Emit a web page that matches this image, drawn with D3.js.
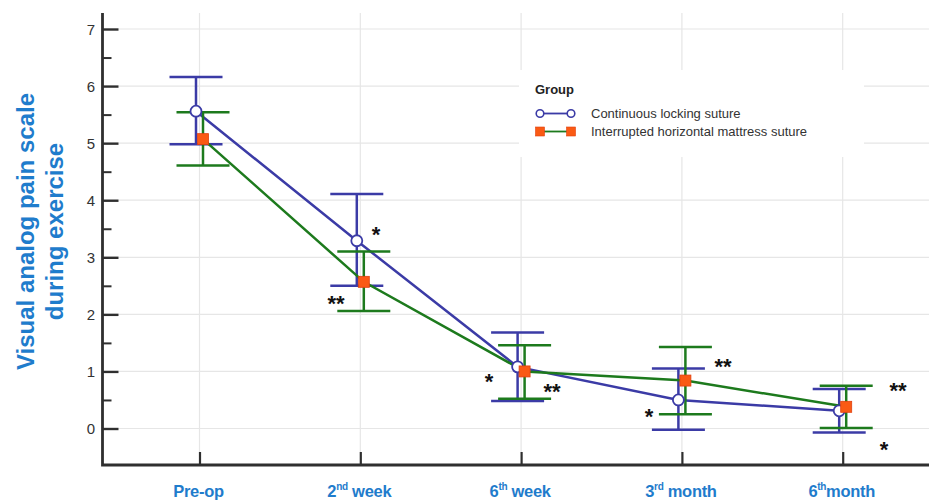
<!DOCTYPE html>
<html>
<head>
<meta charset="utf-8">
<script src="https://cdn.jsdelivr.net/npm/d3@7"></script>
<style>
  html, body { margin: 0; padding: 0; background: #fff; }
  svg { display: block; font-family: "Liberation Sans", Arial, sans-serif; }
</style>
</head>
<body>
<svg id="chart" width="929" height="501"></svg>
<script>
// Time points (main label + superscript + rest)
const timeMain = ["Pre-op", "2", "6", "3", "6"];
const timeSup  = ["", "nd", "th", "rd", "th"];
const timeRest = ["", " week", " week", " month", "month"];

// Continuous locking suture: mean and error bar limits
const contMean  = [5.56, 3.29, 1.08, 0.50, 0.31];
const contUpper = [6.16, 4.11, 1.68, 1.05, 0.69];
const contLower = [4.98, 2.50, 0.48, -0.02, -0.07];

// Interrupted horizontal mattress suture: mean and error bar limits
const intMean  = [5.07, 2.57, 1.00, 0.84, 0.38];
const intUpper = [5.54, 3.10, 1.46, 1.43, 0.75];
const intLower = [4.61, 2.06, 0.52, 0.25, 0.01];

// Significance marks: position in (time index, VAS) units
const sigText = ["*", "**", "*", "**", "**", "*", "**", "*"];
const sigX    = [1.098, 0.849, 1.800, 2.192, 3.256, 2.795, 4.344, 4.257];
const sigY    = [3.48, 2.27, 0.90, 0.73, 1.17, 0.29, 0.74, -0.29];

const yTicks = [0, 1, 2, 3, 4, 5, 6, 7];
const yMinor = [0.5, 1.5, 2.5, 3.5, 4.5, 5.5, 6.5];

const seriesNames = ["Continuous locking suture", "Interrupted horizontal mattress suture"];
const yTitle = ["Visual analog pain scale", "during exercise"];

const BLUE = "#3b3ba6", GREEN = "#1d7a1d", ORANGE = "#fa5a14";
const AXIS = "#2f2f2f", GRID = "#e6e6e6", TITLE = "#1f7ccc";

const svg = d3.select("#chart");
const x = d3.scaleLinear().domain([0, 4]).range([199.5, 842.7]);
const y = d3.scaleLinear().domain([0, 7]).range([428.5, 29]);
const axisLeftX = 102.5, axisBottomY = 465, plotTop = 13;

// gridlines
const grid = svg.append("g");
grid.selectAll("line.h").data(yTicks).join("line")
  .attr("x1", axisLeftX + 16).attr("x2", 929)
  .attr("y1", d => y(d)).attr("y2", d => y(d))
  .attr("stroke", GRID).attr("stroke-width", 1.2);
grid.selectAll("line.v").data(d3.range(timeMain.length)).join("line")
  .attr("x1", d => x(d)).attr("x2", d => x(d))
  .attr("y1", plotTop).attr("y2", axisBottomY - 13)
  .attr("stroke", GRID).attr("stroke-width", 1.2);

// legend background interrupts the grid
svg.append("rect").attr("x", 519).attr("y", 70).attr("width", 345).attr("height", 87).attr("fill", "#fff");

// y axis
const yAxis = d3.axisRight(y).tickValues(yTicks).tickSize(16).tickFormat("");
const gy = svg.append("g").attr("transform", `translate(${axisLeftX},0)`).call(yAxis);
gy.select(".domain").remove();
gy.selectAll(".tick line").attr("stroke", AXIS).attr("stroke-width", 2.4);
const yMinorAxis = d3.axisRight(y).tickValues(yMinor).tickSize(9).tickFormat("");
const gym = svg.append("g").attr("transform", `translate(${axisLeftX},0)`).call(yMinorAxis);
gym.select(".domain").remove();
gym.selectAll(".tick line").attr("stroke", AXIS).attr("stroke-width", 2);

svg.append("g").selectAll("text").data(yTicks).join("text")
  .attr("x", 95).attr("y", d => y(d) + 5.5)
  .attr("text-anchor", "end").attr("font-size", 15).attr("fill", "#333")
  .text(d => d);

// x axis
const xAxis = d3.axisTop(x).tickValues(d3.range(timeMain.length)).tickSize(13).tickFormat("");
const gx = svg.append("g").attr("transform", `translate(0,${axisBottomY})`).call(xAxis);
gx.select(".domain").remove();
gx.selectAll(".tick line").attr("stroke", AXIS).attr("stroke-width", 2.2);

svg.append("path")
  .attr("d", `M${axisLeftX},${plotTop} V${axisBottomY} H929`)
  .attr("fill", "none").attr("stroke", AXIS).attr("stroke-width", 2.8);

// x labels with superscripts
const xl = svg.append("g").selectAll("text").data(d3.range(timeMain.length)).join("text")
  .attr("x", d => x(d) - 1).attr("y", 497)
  .attr("text-anchor", "middle").attr("font-size", 16.5).attr("font-weight", "bold")
  .attr("letter-spacing", -0.3).attr("fill", TITLE);
xl.append("tspan").text(d => timeMain[d]);
xl.append("tspan").attr("font-size", 10).attr("dy", -7).text(d => timeSup[d]);
xl.append("tspan").attr("dy", 7).text(d => timeRest[d]);

// y title, two rotated lines
const titleBase = [34, 63];
svg.append("g").selectAll("text").data(yTitle).join("text")
  .attr("transform", (d, i) => `translate(${titleBase[i]},231.5) rotate(-90)`)
  .attr("text-anchor", "middle").attr("font-size", 24).attr("font-weight", "bold")
  .attr("fill", TITLE)
  .text(d => d);

// series
const series = [
  { mean: contMean, up: contUpper, lo: contLower, color: BLUE, dx: -3.5 },
  { mean: intMean, up: intUpper, lo: intLower, color: GREEN, dx: 3.5 }
];
const capHalf = 26.5;
series.forEach(s => {
  const g = svg.append("g");
  const idx = d3.range(s.mean.length);
  g.selectAll("line.v").data(idx).join("line")
    .attr("x1", i => x(i) + s.dx).attr("x2", i => x(i) + s.dx)
    .attr("y1", i => y(s.up[i])).attr("y2", i => y(s.lo[i]))
    .attr("stroke", s.color).attr("stroke-width", 2.5);
  ["up", "lo"].forEach(k => {
    g.selectAll("line." + k).data(idx).join("line")
      .attr("x1", i => x(i) + s.dx - capHalf).attr("x2", i => x(i) + s.dx + capHalf)
      .attr("y1", i => y(s[k][i])).attr("y2", i => y(s[k][i]))
      .attr("stroke", s.color).attr("stroke-width", 2.5);
  });
  g.append("path").datum(idx)
    .attr("d", d3.line().x(i => x(i) + s.dx).y(i => y(s.mean[i])))
    .attr("fill", "none").attr("stroke", s.color).attr("stroke-width", 2.5);
});

// markers on top
svg.append("g").selectAll("circle").data(d3.range(contMean.length)).join("circle")
  .attr("cx", i => x(i) - 3.5).attr("cy", i => y(contMean[i])).attr("r", 5.5)
  .attr("fill", "#fff").attr("stroke", BLUE).attr("stroke-width", 1.8);
svg.append("g").selectAll("rect").data(d3.range(intMean.length)).join("rect")
  .attr("x", i => x(i) + 3.5 - 5.5).attr("y", i => y(intMean[i]) - 5.5)
  .attr("width", 11).attr("height", 11)
  .attr("fill", ORANGE).attr("stroke", "#e04010").attr("stroke-width", 0.8);

// significance marks
svg.append("g").selectAll("text").data(d3.range(sigText.length)).join("text")
  .attr("x", i => x(sigX[i])).attr("y", i => y(sigY[i]) + 12)
  .attr("text-anchor", "middle").attr("font-size", 22).attr("font-weight", "bold")
  .attr("fill", "#111").text(i => sigText[i]);

// legend
const lg = svg.append("g");
lg.append("text").attr("x", 535).attr("y", 94).attr("font-size", 13).attr("font-weight", "bold")
  .attr("fill", "#222").text("Group");
const ly = [113.5, 131.5];
lg.append("line").attr("x1", 540).attr("x2", 571).attr("y1", ly[0]).attr("y2", ly[0])
  .attr("stroke", BLUE).attr("stroke-width", 1.8);
[540, 571].forEach(cx => lg.append("circle").attr("cx", cx).attr("cy", ly[0]).attr("r", 3.8)
  .attr("fill", "#fff").attr("stroke", BLUE).attr("stroke-width", 1.6));
lg.append("line").attr("x1", 540).attr("x2", 571).attr("y1", ly[1]).attr("y2", ly[1])
  .attr("stroke", GREEN).attr("stroke-width", 1.8);
[540, 571].forEach(cx => lg.append("rect").attr("x", cx - 4.5).attr("y", ly[1] - 4.5)
  .attr("width", 9).attr("height", 9).attr("fill", ORANGE).attr("stroke", "#e04010").attr("stroke-width", 0.6));
lg.selectAll("text.item").data(seriesNames).join("text")
  .attr("x", 591).attr("y", (d, i) => ly[i] + 4.5)
  .attr("font-size", 13).attr("fill", "#333").text(d => d);
</script>
</body>
</html>
